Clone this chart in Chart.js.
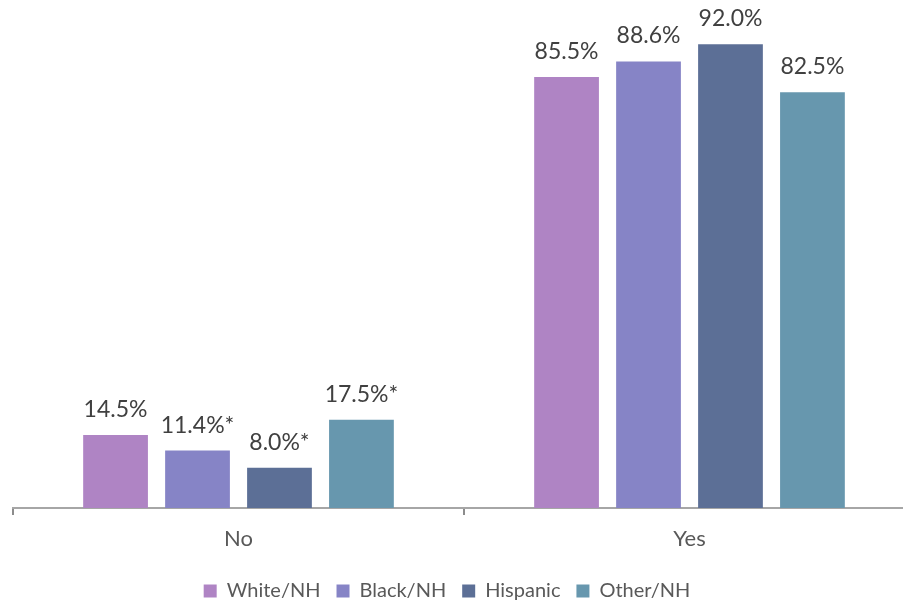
<!DOCTYPE html>
<html>
<head>
<meta charset="utf-8">
<script src="https://cdn.jsdelivr.net/npm/chart.js@4/dist/chart.umd.min.js"></script>
<style>
  html, body { margin: 0; padding: 0; background: #fff; overflow: hidden; }
  #wrap { width: 915px; height: 603px; }
</style>
</head>
<body>
<div id="wrap"><canvas id="raceChart" width="915" height="603"></canvas></div>
<script>
const categories = ['No', 'Yes'];
const groups = ['White/NH', 'Black/NH', 'Hispanic', 'Other/NH'];
const whiteNH = [14.5, 85.5];
const blackNH = [11.4, 88.6];
const hispanic = [8.0, 92.0];
const otherNH = [17.5, 82.5];
// significance flags for the label asterisk
const whiteStar = [false, false];
const blackStar = [true, false];
const hispanicStar = [true, false];
const otherStar = [true, false];

const colors = ['#AF84C4', '#8684C6', '#5C6F96', '#6797AE'];
const values = [whiteNH, blackNH, hispanic, otherNH];
const stars = [whiteStar, blackStar, hispanicStar, otherStar];

const FONT = 'Lato, "Open Sans", sans-serif';

// draws "xx.x%" above each bar
const barLabels = {
  id: 'barLabels',
  afterDatasetsDraw(chart) {
    const c = chart.ctx;
    c.save();
    c.font = '23px ' + FONT;
    c.fillStyle = '#404040';
    c.textAlign = 'center';
    c.textBaseline = 'alphabetic';
    chart.data.datasets.forEach((ds, i) => {
      chart.getDatasetMeta(i).data.forEach((bar, j) => {
        const txt = ds.data[j].toFixed(1) + '%' + (stars[i][j] ? '*' : '');
        c.fillText(txt, bar.x, bar.y - 18);
      });
    });
    c.restore();
  }
};

// nudge the legend row a little left and down
const legendShift = {
  id: 'legendShift',
  afterLayout(chart) {
    const lg = chart.legend;
    lg.left -= 17; lg.right -= 17;
    lg.top += 14; lg.bottom += 14;
  }
};

const ctx = document.getElementById('raceChart').getContext('2d');
new Chart(ctx, {
  type: 'bar',
  data: {
    labels: categories,
    datasets: groups.map((g, i) => ({
      label: g,
      data: values[i],
      backgroundColor: colors[i],
      categoryPercentage: 0.727,
      barPercentage: 0.79
    }))
  },
  options: {
    responsive: false,
    animation: false,
    layout: { padding: { left: 13, right: 0, top: 4, bottom: 6 } },
    scales: {
      x: {
        afterFit(scale) { scale.height = 43; },
        grid: {
          offset: true,
          drawOnChartArea: false,
          drawTicks: true,
          tickLength: 7,
          color: '#8c8c8c',
          lineWidth: 2
        },
        border: { color: '#a6a6a6', width: 2 },
        ticks: { color: '#595959', font: { family: FONT, size: 22 }, padding: 11 }
      },
      y: {
        display: false,
        min: 0,
        max: 100
      }
    },
    plugins: {
      legend: {
        position: 'bottom',
        labels: {
          color: '#595959',
          font: { family: FONT, size: 20 },
          boxWidth: 13,
          boxHeight: 13,
          padding: 16
        }
      },
      tooltip: { enabled: false }
    }
  },
  plugins: [barLabels, legendShift]
});
</script>
</body>
</html>
